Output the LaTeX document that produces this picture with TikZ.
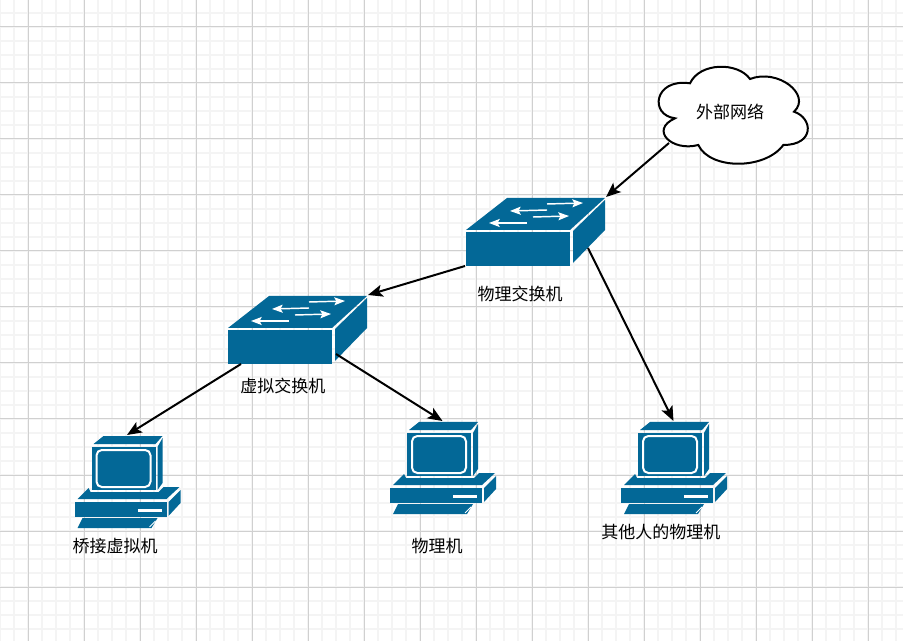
\documentclass[tikz,border=0pt]{standalone}
\usepackage{fontspec}
\setmainfont{Noto Sans CJK SC}
\usetikzlibrary{arrows.meta,positioning}
\definecolor{iconblue}{HTML}{036897}
\definecolor{gridminor}{HTML}{F4F4F4}
\definecolor{gridmajor}{HTML}{D0D0D0}

\begin{document}
\begin{tikzpicture}[x=0.75pt,y=-0.75pt,on grid,
				switchbox/.style={rectangle, inner sep=0pt, outer sep=0pt, minimum width=105.75pt, minimum height=51.75pt},
				pcbox/.style={rectangle, inner sep=0pt, outer sep=0pt, minimum width=80.25pt, minimum height=71.25pt},
				tag/.style={inner sep=0pt, font=\fontsize{12.75pt}{15pt}\selectfont},
				link/.style={-{Stealth[length=11pt,width=9pt,inset=2.5pt]}, line width=1.5pt, black},
				blue part/.style={fill=iconblue, draw=none},
				white mark/.style={-{Stealth[length=8pt,width=6pt,inset=1.5pt]}, white, line width=1.1pt},
				switchicon/.pic={
					\path[blue part] (42,1) -- (140,1) -- (105,33) -- (1,33) -- cycle;
					\path[blue part] (1,35) -- (105,35) -- (105,69) -- (1,69) -- cycle;
					\path[blue part] (108,34) -- (140,3) -- (140,33) -- (108,66) -- cycle;
					\draw[white mark] (82,7) -- (118,6);
					\draw[white mark] (82,13) -- (45,14);
					\draw[white mark] (68,20) -- (104,19);
					\draw[white mark] (62,26) -- (24,26);
				},
				pcicon/.pic={
					\path[blue part] (30,1) -- (89,1) -- (82,9) -- (20,9) -- cycle;
					\path[blue part] (18,12) rectangle (82,55);
					\draw[white, line width=1.5pt, rounded corners=4pt] (23,15) rectangle (77,52);
					\path[blue part] (84,12) -- (89,3) -- (89,48) -- (84,55) -- cycle;
					\path[blue part] (4,64) -- (15,53) -- (17,57) -- (85,57) -- (90,52) -- (106,52) -- (93,64) -- cycle;
					\path[blue part] (1,67) rectangle (93,82);
					\path[white] [fill=white] (64,74) rectangle (88,77);
					\path[blue part] (95,67) -- (107,55) -- (107,68) -- (95,81) -- cycle;
					\path[blue part] (9,83) -- (84,83) -- (78,93) -- (4,93) -- cycle;
					\draw[white, line width=0.75pt] (82,86) -- (76,92);
				}
			]
			
			\useasboundingbox (0,0) rectangle (903,641);
			\fill[white] (0,0) rectangle (903,641);
			
			\foreach \x in {0,14,...,903}
				\draw[gridminor, line width=1.1pt] (\x,0) -- (\x,641);
			\foreach \y in {-1,13,...,641}
				\draw[gridminor, line width=1.1pt] (0,\y) -- (903,\y);
			\foreach \x in {28,84,...,903}
				\draw[gridmajor, line width=0.75pt] (\x,0) -- (\x,641);
			\foreach \y in {27,83,...,641}
				\draw[gridmajor, line width=0.75pt] (0,\y) -- (903,\y);
			
			\node[switchbox] (sw_phys) at (535.5,231.5) {};
			\node[switchbox] (sw_virt) at (297.5,329.5) {};
			\node[pcbox] (pc_bridge) at (127,482.5) {};
			\node[pcbox] (pc_phys) at (442.5,468.5) {};
			\node[pcbox] (pc_other) at (673.5,468.5) {};
			
			\draw[fill=white, line width=1.5pt] (690,83.3)
				.. controls (700,62) and (738,62) .. (750,79)
				.. controls (778,68) and (812,95) .. (794,111.7)
				.. controls (813,118) and (815,145) .. (783.3,145)
				.. controls (765,170) and (710,170) .. (698.3,145)
				.. controls (672,152) and (649,130) .. (675,118.3)
				.. controls (649,115) and (654,78) .. (690,83.3) -- cycle;
			\node[tag] (cloud_ext) at (730,112) {外部网络};
			
			\pic at (sw_phys.north west) {switchicon};
			\pic at (sw_virt.north west) {switchicon};
			\pic at (pc_bridge.north west) {pcicon};
			\pic at (pc_phys.north west) {pcicon};
			\pic at (pc_other.north west) {pcicon};
			
			\node[tag] (lbl_swphys) [below=46.9pt of sw_phys, xshift=-11.6pt] {物理交换机};
			\node[tag] (lbl_swvirt) [below=42.4pt of sw_virt, xshift=-10.9pt] {虚拟交换机};
			\node[tag] (lbl_bridge) [below=47.6pt of pc_bridge, xshift=-9pt] {桥接虚拟机};
			\node[tag] (lbl_phys) [below=58.1pt of pc_phys, xshift=-4.1pt] {物理机};
			\node[tag] (lbl_other) [below=47.6pt of pc_other, xshift=-9.4pt] {其他人的物理机};
			
			\coordinate (cloud_out) at (669,143);
			\coordinate (phys_out) at (588,248);
			\coordinate (virt_left) at (241,364);
			\coordinate (virt_right) at (336,354);
			
			\draw[link] (cloud_out) -- (sw_phys.north east);
			\draw[link] (sw_phys.south west) -- (sw_virt.north east);
			\draw[link] (phys_out) -- (pc_other.north);
			\draw[link] (virt_left) -- (pc_bridge.north);
			\draw[link] (virt_right) -- (pc_phys.north);
		\end{tikzpicture}
\end{document}
